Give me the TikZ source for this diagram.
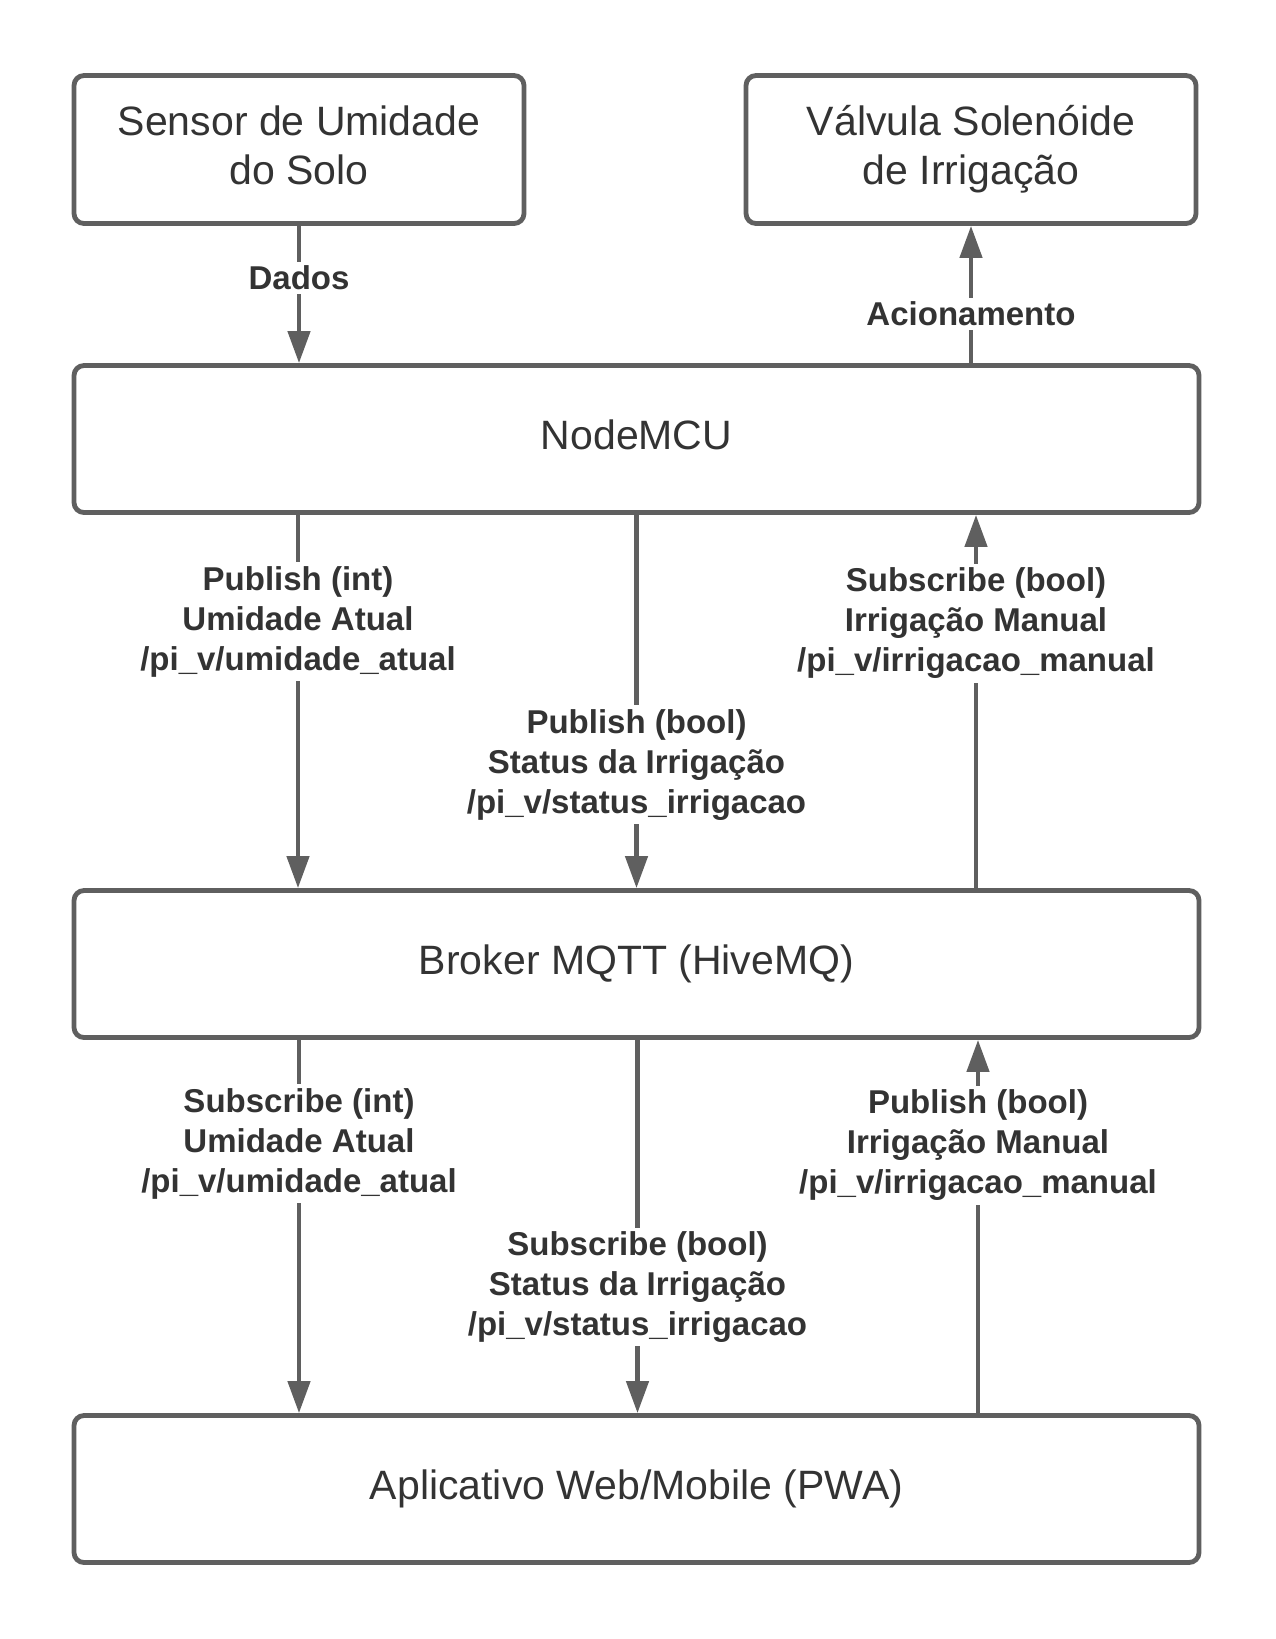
\documentclass[tikz,border=0pt]{standalone}
\usepackage{fontspec}
\setmainfont{Liberation Sans}
\usetikzlibrary{arrows.meta}
\definecolor{linegray}{HTML}{5F5F5F}
\definecolor{txtdark}{HTML}{333333}
\begin{document}
\begin{tikzpicture}[x=1pt,y=-1pt,
  box/.style={draw=linegray, line width=4.8pt, rounded corners=10pt, fill=white,
    text=txtdark, align=center, font=\fontsize{41}{49}\selectfont, inner sep=0pt},
  smallbox/.style={box, minimum width=450pt, minimum height=148pt},
  widebox/.style={box, minimum width=1125pt, minimum height=147pt,
    text height=31pt, text depth=10pt},
  arr/.style={draw=linegray, line width=4.5pt, -{Triangle[length=32pt,width=22pt]}},
  lbl/.style={fill=white, text=txtdark, align=center, inner sep=4pt,
    font=\bfseries\fontsize{33}{40}\selectfont}]
\useasboundingbox (0,0) rectangle (1275,1639);
\fill[white] (0,0) rectangle (1275,1639);

\node[smallbox] (sensor) at (299,149.5) {Sensor de Umidade\\do Solo\vphantom{g}};
\node[smallbox] (valv) at (971,149.5) {Válvula Solenóide\\de Irrigação};
\node[widebox] (mcu) at (636.5,439) {NodeMCU};
\node[widebox] (broker) at (636.5,964) {Broker MQTT (HiveMQ)};
\node[widebox] (app) at (636.5,1489) {Aplicativo Web/Mobile (PWA)};

\draw[arr] (sensor.south) -- node[lbl, pos=0.38] (ldados) {Dados} (mcu.north -| sensor.south);
\draw[arr] (mcu.north -| valv.south) -- node[lbl, pos=0.36] (lacion) {Acionamento} (valv.south);

\draw[arr] ([xshift=-1pt]mcu.south -| sensor.south) -- node[lbl, pos=0.286] (l1)
  {Publish (int)\\Umidade Atual\\/pi\_v/umidade\_atual} ([xshift=-1pt]broker.north -| sensor.south);
\draw[arr] (mcu.south) -- node[lbl, pos=0.669] (m1)
  {Publish (bool)\\Status da Irrigação\\/pi\_v/status\_irrigacao} (broker.north);
\draw[arr] ([xshift=5pt]broker.north -| valv.south) -- node[lbl, pos=0.709] (r1)
  {Subscribe (bool)\\Irrigação Manual\\/pi\_v/irrigacao\_manual} ([xshift=5pt]mcu.south -| valv.south);

\draw[arr] (broker.south -| sensor.south) -- node[lbl, pos=0.278] (l2)
  {Subscribe (int)\\Umidade Atual\\/pi\_v/umidade\_atual} (app.north -| sensor.south);
\draw[arr] ([xshift=1pt]broker.south) -- node[lbl, pos=0.662] (m2)
  {Subscribe (bool)\\Status da Irrigação\\/pi\_v/status\_irrigacao} ([xshift=1pt]app.north);
\draw[arr] ([xshift=7pt]app.north -| valv.south) -- node[lbl, pos=0.717] (r2)
  {Publish (bool)\\Irrigação Manual\\/pi\_v/irrigacao\_manual} ([xshift=7pt]broker.south -| valv.south);
\end{tikzpicture}
\end{document}
